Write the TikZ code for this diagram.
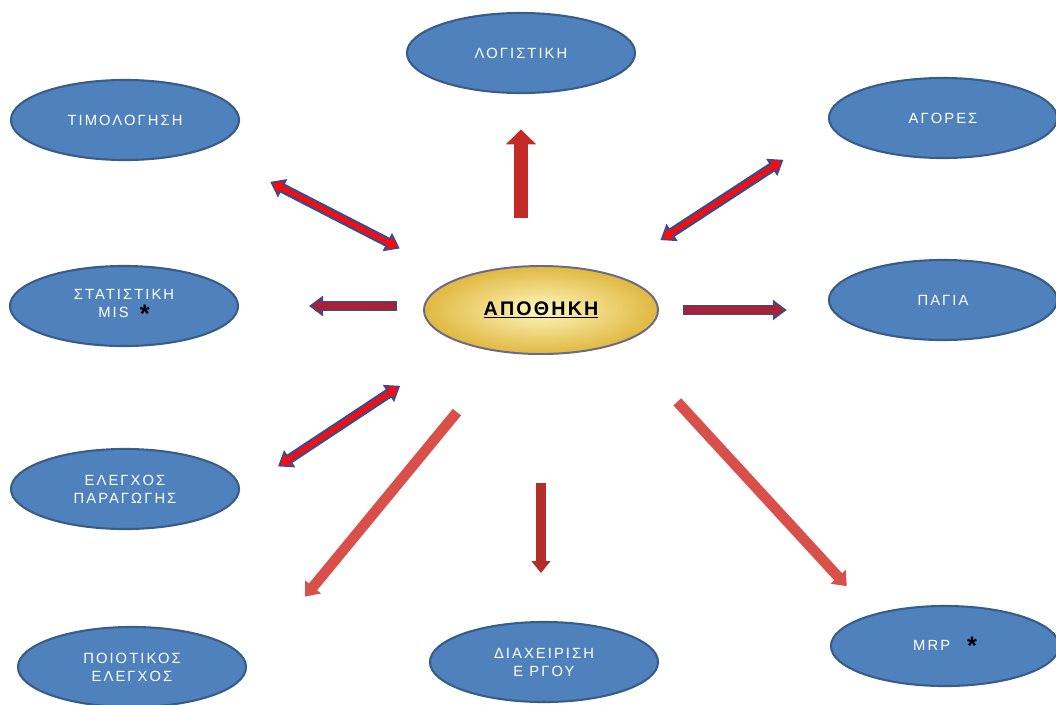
\documentclass[tikz,border=0pt]{standalone}
\usepackage{fontspec}
\setmainfont{Liberation Sans}
\newfontfamily\cellfont[LetterSpace=14]{Liberation Sans}
\newfontfamily\storefont[LetterSpace=11]{Liberation Sans}
\usetikzlibrary{arrows.meta,shapes.geometric,calc}
\definecolor{cellfill}{HTML}{4F81BD}
\definecolor{celledge}{HTML}{385D8A}
\definecolor{goldlt}{HTML}{FFF7C0}
\definecolor{golddk}{HTML}{E0B840}
\definecolor{goldedge}{HTML}{6A6A88}
\definecolor{arrred}{HTML}{FF0A0A}
\definecolor{arrblue}{HTML}{3A4C8E}
\definecolor{arrmaroon}{HTML}{A3233A}
\definecolor{arrup}{HTML}{C42A28}
\definecolor{arrdown}{HTML}{B32E2B}
\definecolor{arrlight}{HTML}{D9504A}
\newcommand{\starmark}{\hspace*{8pt}{\color{black}\rmfamily\bfseries\fontsize{18}{12}\selectfont\raisebox{-3pt}{*}}}

\begin{document}
\begin{tikzpicture}[
  x=0.025cm, y=-0.025cm,
  cell/.style={
    ellipse, draw=celledge, line width=1.5pt, fill=cellfill,
    minimum width=5.7cm, minimum height=2cm, inner sep=0pt, align=center,
    text=white, font=\cellfont\fontsize{10.5}{12.8}\selectfont
  },
  store/.style={
    ellipse, draw=goldedge, line width=1.4pt, inner color=goldlt, outer color=golddk,
    minimum width=5.85cm, minimum height=2.2cm, inner sep=0pt,
    font=\storefont\bfseries\fontsize{14}{14}\selectfont
  },
  uparr/.style={-{Triangle[length=10.6pt,width=21pt]}, line width=9.9pt, draw=arrup},
  downarr/.style={-{Triangle[length=8.5pt,width=13pt]}, line width=7pt, draw=arrdown},
  longarr/.style={-{Triangle[length=9pt,width=14pt]}, line width=7.5pt, draw=arrlight},
  twoout/.style={{Triangle[length=10pt,width=14pt]}-{Triangle[length=10pt,width=14pt]},
    line width=7pt, draw=arrblue},
  twoin/.style={{Triangle[length=6.5pt,width=9pt]}-{Triangle[length=6.5pt,width=9pt]},
    line width=3.5pt, draw=arrred, shorten <=2pt, shorten >=2pt},
  oneout/.style={-{Triangle[length=10pt,width=14pt]}, line width=7.8pt, draw=arrblue},
  onein/.style={-{Triangle[length=6.5pt,width=10pt]}, line width=5pt, draw=arrmaroon,
    shorten <=0.8pt, shorten >=2pt},
]
  \useasboundingbox (0,0) rectangle (1056,704);

  \node[store] (apo) at (541,310) {\underline{ΑΠΟΘΗΚΗ}};
  \node[cell] (log) at (521,53) {ΛΟΓΙΣΤΙΚΗ};
  \node[cell] (tim) at (125,120) {ΤΙΜΟΛΟΓΗΣΗ};
  \node[cell] (ago) at (943,118) {ΑΓΟΡΕΣ};
  \node[cell] (stat) at (124,306) {ΣΤΑΤΙΣΤΙΚΗ\\MIS\starmark};
  \node[cell] (pag) at (943,300) {ΠΑΓΙΑ};
  \node[cell] (ele) at (125,489) {ΕΛΕΓΧΟΣ\\ΠΑΡΑΓΩΓΗΣ};
  \node[cell] (poi) at (132,667) {ΠΟΙΟΤΙΚΟΣ\\ΕΛΕΓΧΟΣ};
  \node[cell] (dia) at (544,662) {ΔΙΑΧΕΙΡΙΣΗ\\Ε ΡΓΟΥ};
  \node[cell] (mrp) at (945,646) {MRP\hspace*{4pt}\starmark};

  \coordinate (logfoot) at (log.south |- apo.north);
  \coordinate (diahead) at (apo.south |- dia.north);
  \coordinate (statside) at (stat.east |- apo.west);
  \coordinate (pagside) at (pag.west |- apo.east);

  % single arrows out of the store
  \draw[uparr] ($(log.south)!0.724!(logfoot)$) -- ($(log.south)!0.207!(logfoot)$);
  \draw[downarr] ($(apo.south)!0.483!(diahead)$) -- ($(apo.south)!0.82!(diahead)$);
  \draw[longarr] ($(apo)!0.286!(poi.east)$) -- ($(apo)!0.803!(poi.east)$);
  \draw[longarr] ($(apo.south east)!0.2!(mrp.north west)+(5,5)$) -- ($(apo.south east)!0.917!(mrp.north west)+(3,-8)$);

  \draw[oneout] ($(apo.west)!0.14!(statside)+(0,-4)$) -- ($(apo.west)!0.62!(statside)+(0,-4)$);
  \draw[onein] ($(apo.west)!0.14!(statside)+(0,-4)$) -- ($(apo.west)!0.62!(statside)+(0,-4)$);
  \draw[oneout] ($(apo.east)!0.139!(pagside)$) -- ($(apo.east)!0.757!(pagside)$);
  \draw[onein] ($(apo.east)!0.139!(pagside)$) -- ($(apo.east)!0.757!(pagside)$);

  % two-way arrows
  \draw[twoout] ($(apo.north west)!0.23!(tim.south east)$) -- ($(apo.north west)!0.746!(tim.south east)$);
  \draw[twoin] ($(apo.north west)!0.23!(tim.south east)$) -- ($(apo.north west)!0.746!(tim.south east)$);
  \draw[twoout] ($(apo)!0.416!(ago.west)+(0,10)$) -- ($(apo)!0.845!(ago.west)+(0,12)$);
  \draw[twoin] ($(apo)!0.416!(ago.west)+(0,10)$) -- ($(apo)!0.845!(ago.west)+(0,12)$);
  \draw[twoout] ($(apo)!0.468!(ele.east)+(0,-8)$) -- ($(apo)!0.874!(ele.east)$);
  \draw[twoin] ($(apo)!0.468!(ele.east)+(0,-8)$) -- ($(apo)!0.874!(ele.east)$);
\end{tikzpicture}
\end{document}
